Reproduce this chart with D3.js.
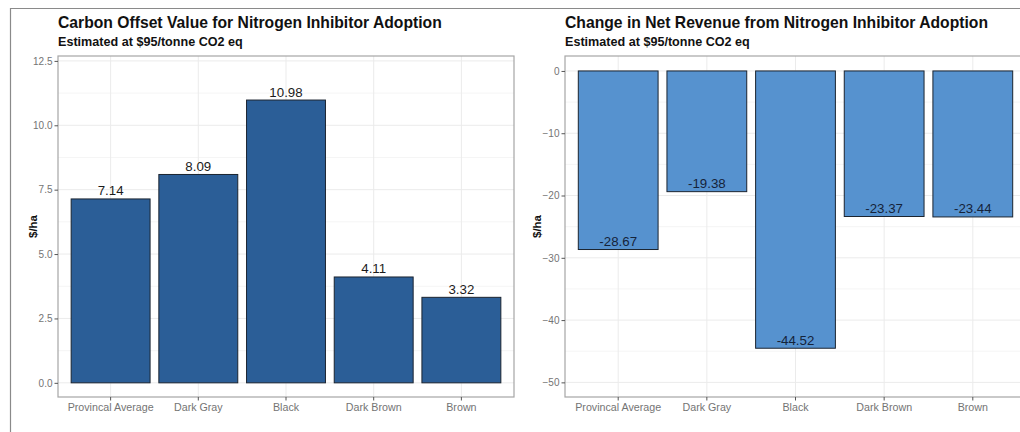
<!DOCTYPE html>
<html>
<head>
<meta charset="utf-8">
<script src="https://cdn.jsdelivr.net/npm/d3@7"></script>
<style>
  body { margin: 0; background: #fff; }
  svg { display: block; font-family: "Liberation Sans", Arial, sans-serif; }
</style>
</head>
<body>
<script>
var categories = ["Provincal Average", "Dark Gray", "Black", "Dark Brown", "Brown"];
var carbonValues = [7.14, 8.09, 10.98, 4.11, 3.32];
var revenueValues = [-28.67, -19.38, -44.52, -23.37, -23.44];
var carbonTicks = [0, 2.5, 5, 7.5, 10, 12.5];
var revenueTicks = [0, -10, -20, -30, -40, -50];

var svg = d3.select("body")
    .append("svg")
    .attr("width", 1020)
    .attr("height", 432);

svg.append("rect").attr("width", 1020).attr("height", 432).attr("fill", "#fff");

// outer frame (top and left edge only visible)
svg.append("path")
    .attr("d", "M10.5,432 V8.5 H1020")
    .attr("fill", "none")
    .attr("stroke", "#8a8a8a")
    .attr("stroke-width", 1.2);

function drawPanel(opt) {
    // ggplot style: bar width 0.9, 0.6 step of expansion each side
    var x = d3.scaleBand()
        .domain(categories)
        .range([opt.left, opt.right])
        .paddingInner(0.1)
        .paddingOuter(0.15);

    var y = d3.scaleLinear()
        .domain(opt.domain)
        .range([opt.bottom, opt.top]);

    var g = svg.append("g");

    // minor grid
    var minor = [];
    for (var i = 0; i < opt.ticks.length - 1; i++) {
        minor.push((opt.ticks[i] + opt.ticks[i + 1]) / 2);
    }
    g.selectAll(".minor")
        .data(minor)
        .enter()
        .append("line")
        .attr("x1", opt.left).attr("x2", opt.right)
        .attr("y1", function(d) { return y(d); })
        .attr("y2", function(d) { return y(d); })
        .attr("stroke", "#f3f3f3")
        .attr("stroke-width", 0.8);

    g.selectAll(".major")
        .data(opt.ticks)
        .enter()
        .append("line")
        .attr("x1", opt.left).attr("x2", opt.right)
        .attr("y1", function(d) { return y(d); })
        .attr("y2", function(d) { return y(d); })
        .attr("stroke", "#ebebeb")
        .attr("stroke-width", 1);

    g.selectAll(".vgrid")
        .data(categories)
        .enter()
        .append("line")
        .attr("x1", function(d) { return x(d) + x.bandwidth() / 2; })
        .attr("x2", function(d) { return x(d) + x.bandwidth() / 2; })
        .attr("y1", opt.top).attr("y2", opt.bottom)
        .attr("stroke", "#ebebeb")
        .attr("stroke-width", 1);

    g.selectAll(".bar")
        .data(opt.values)
        .enter()
        .append("rect")
        .attr("x", function(d, i) { return x(categories[i]); })
        .attr("width", x.bandwidth())
        .attr("y", function(d) { return Math.min(y(d), y(0)); })
        .attr("height", function(d) { return Math.abs(y(d) - y(0)); })
        .attr("fill", opt.color)
        .attr("stroke", "#1b2430")
        .attr("stroke-width", 1);

    g.selectAll(".lab")
        .data(opt.values)
        .enter()
        .append("text")
        .attr("x", function(d, i) { return x(categories[i]) + x.bandwidth() / 2; })
        .attr("y", function(d) { return y(d) - 3.5; })
        .attr("text-anchor", "middle")
        .attr("font-size", "13.3px")
        .attr("fill", opt.labelColor)
        .text(function(d) { return d.toFixed(2); });

    // panel border
    g.append("rect")
        .attr("x", opt.left).attr("y", opt.top)
        .attr("width", opt.right - opt.left)
        .attr("height", opt.bottom - opt.top)
        .attr("fill", "none")
        .attr("stroke", "#a6a6a6")
        .attr("stroke-width", 1.2);

    var yAxis = d3.axisLeft(y)
        .tickValues(opt.ticks)
        .tickSize(3.5)
        .tickPadding(2)
        .tickFormat(opt.format);
    var ya = g.append("g")
        .attr("transform", "translate(" + opt.left + ",0)")
        .call(yAxis);
    ya.select(".domain").remove();
    ya.selectAll("line").attr("stroke", "#555");
    ya.selectAll("text").attr("fill", "#747474").attr("font-size", "10px")
        .attr("font-family", "Liberation Sans, Arial, sans-serif");

    var xAxis = d3.axisBottom(x)
        .tickSize(3.5)
        .tickPadding(3);
    var xa = g.append("g")
        .attr("transform", "translate(0," + opt.bottom + ")")
        .call(xAxis);
    xa.select(".domain").remove();
    xa.selectAll("line").attr("stroke", "#555");
    xa.selectAll("text").attr("fill", "#747474").attr("font-size", "10.7px")
        .attr("font-family", "Liberation Sans, Arial, sans-serif");

    g.append("text")
        .attr("transform", "translate(" + opt.ylabX + "," + ((opt.top + opt.bottom) / 2) + ") rotate(-90)")
        .attr("text-anchor", "middle")
        .attr("font-weight", "bold")
        .attr("font-size", "11.5px")
        .attr("fill", "#111")
        .text("$/ha");

    g.append("text")
        .attr("x", opt.left).attr("y", 28)
        .attr("font-weight", "bold")
        .attr("font-size", "15.7px")
        .attr("fill", "#111")
        .text(opt.title);

    g.append("text")
        .attr("x", opt.left).attr("y", 46)
        .attr("font-weight", "bold")
        .attr("font-size", "12.6px")
        .attr("fill", "#111")
        .text("Estimated at $95/tonne CO2 eq");
}

drawPanel({
    left: 58, right: 514, top: 56, bottom: 397,
    domain: [-0.55, 12.69],
    values: carbonValues,
    ticks: carbonTicks,
    format: d3.format(".1f"),
    color: "#2b5e97",
    labelColor: "#1c1c1c",
    ylabX: 37,
    title: "Carbon Offset Value for Nitrogen Inhibitor Adoption"
});

drawPanel({
    left: 565, right: 1026, top: 56, bottom: 397,
    domain: [-52.35, 2.4],
    values: revenueValues,
    ticks: revenueTicks,
    format: d3.format("d"),
    color: "#5692cf",
    labelColor: "#15233a",
    ylabX: 541,
    title: "Change in Net Revenue from Nitrogen Inhibitor Adoption"
});
</script>
</body>
</html>
